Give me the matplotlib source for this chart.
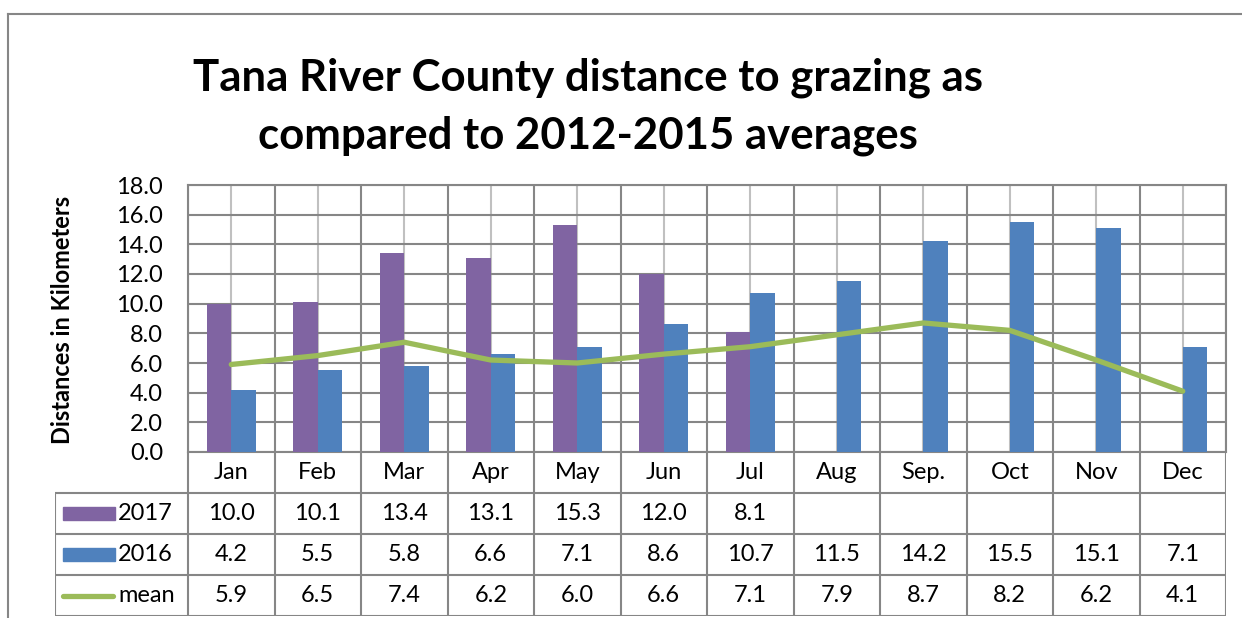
import numpy as np
import matplotlib.pyplot as plt
from matplotlib.lines import Line2D
from matplotlib.patches import Rectangle

plt.rcParams['font.family'] = ['Lato', 'DejaVu Sans']

# data
months = ['Jan', 'Feb', 'Mar', 'Apr', 'May', 'Jun', 'Jul', 'Aug', 'Sep.', 'Oct', 'Nov', 'Dec']
dist_2017 = [10.0, 10.1, 13.4, 13.1, 15.3, 12.0, 8.1, None, None, None, None, None]
dist_2016 = [4.2, 5.5, 5.8, 6.6, 7.1, 8.6, 10.7, 11.5, 14.2, 15.5, 15.1, 7.1]
dist_mean = [5.9, 6.5, 7.4, 6.2, 6.0, 6.6, 7.1, 7.9, 8.7, 8.2, 6.2, 4.1]
series_names = ['2017', '2016', 'mean']

c2017 = '#8064A2'
c2016 = '#4F81BD'
cmean = '#9BBB59'
gridc = '#868686'
minorc = '#C0C0C0'

W, H = 1242, 618
fig = plt.figure(figsize=(W / 100, H / 100), dpi=100)

def fx(px):
    return px / W

def fy(py):
    return 1 - py / H

# outer chart border (runs off the right and bottom edge)
fig.add_artist(Line2D([fx(8), 1], [fy(14), fy(14)], color=gridc, lw=1.5))
fig.add_artist(Line2D([fx(8), fx(8)], [fy(14), 0], color=gridc, lw=1.5))

# plot area
px_left, px_right, px_top, px_bot = 188, 1226, 185, 452
ax = fig.add_axes([fx(px_left), fy(px_bot), fx(px_right - px_left), (px_bot - px_top) / H])

n = len(months)
x = np.arange(n)
bw = 0.285
v2017 = np.array([np.nan if v is None else v for v in dist_2017])
ax.bar(x - bw / 2, v2017, bw, color=c2017, zorder=3)
ax.bar(x + bw / 2, dist_2016, bw, color=c2016, zorder=3)
ax.plot(x, dist_mean, color=cmean, lw=3.8, solid_capstyle='round', solid_joinstyle='round', zorder=4)

ax.set_xlim(-0.5, n - 0.5)
ax.set_ylim(0, 18)
ax.set_yticks(np.arange(0, 18.1, 2))
ax.set_yticklabels(['%.1f' % v for v in np.arange(0, 18.1, 2)], fontsize=17)
ax.set_xticks(np.arange(-0.5, n, 1))
ax.set_xticks(x, minor=True)
ax.set_xticklabels([])
ax.tick_params(axis='both', which='both', length=0)
ax.tick_params(axis='y', pad=18)
ax.grid(True, which='major', color=gridc, lw=1.5, zorder=0)
ax.grid(True, which='minor', axis='x', color=minorc, lw=1.5, zorder=0)
for s in ax.spines.values():
    s.set_color(gridc)
    s.set_linewidth(1.5)

fig.text(fx(62), fy(320), 'Distances in Kilometers', rotation=90, ha='center', va='center',
         fontsize=17, fontweight='bold')

# title
fig.text(fx(588), fy(78), 'Tana River County distance to grazing as', ha='center', va='center',
         fontsize=31.5, fontweight='bold')
fig.text(fx(588), fy(136), 'compared to 2012-2015 averages', ha='center', va='center',
         fontsize=31.5, fontweight='bold')

# data table underneath
tb_left, tb_bot = 55, 616
tax = fig.add_axes([fx(tb_left), fy(tb_bot), fx(px_right - tb_left), (tb_bot - px_bot) / H])
cat_px = (px_right - px_left) / n
x0 = -0.5 - (px_left - tb_left) / cat_px
tax.set_xlim(x0, n - 0.5)
tax.set_ylim(4, 0)
tax.axis('off')

tax.hlines([1, 2, 3, 4], x0, n - 0.5, color=gridc, lw=1.5)
tax.vlines(x0, 1, 4, color=gridc, lw=1.5)
tax.vlines(np.arange(-0.5, n, 1), 0, 4, color=gridc, lw=1.5)

for i, m in enumerate(months):
    tax.text(i, 0.5, m, ha='center', va='center', fontsize=17)

rows = [dist_2017, dist_2016, dist_mean]
for r, vals in enumerate(rows):
    for i, v in enumerate(vals):
        if v is not None:
            tax.text(i, r + 1.5, '%.1f' % v, ha='center', va='center', fontsize=17)

# legend keys in the first column
def px2x(px):
    return -0.5 + (px - px_left) / cat_px

for r, (name, col) in enumerate(zip(series_names, [c2017, c2016, cmean])):
    yc = r + 1.5
    if name == 'mean':
        tax.plot([px2x(63), px2x(113)], [yc, yc], color=col, lw=3.8, solid_capstyle='round')
    else:
        tax.add_patch(Rectangle((px2x(63), yc - 0.17), px2x(115) - px2x(63), 0.34, color=col))
    tax.text(px2x(118), yc, name, ha='left', va='center', fontsize=17)

fig.savefig('out.png', dpi=100)
